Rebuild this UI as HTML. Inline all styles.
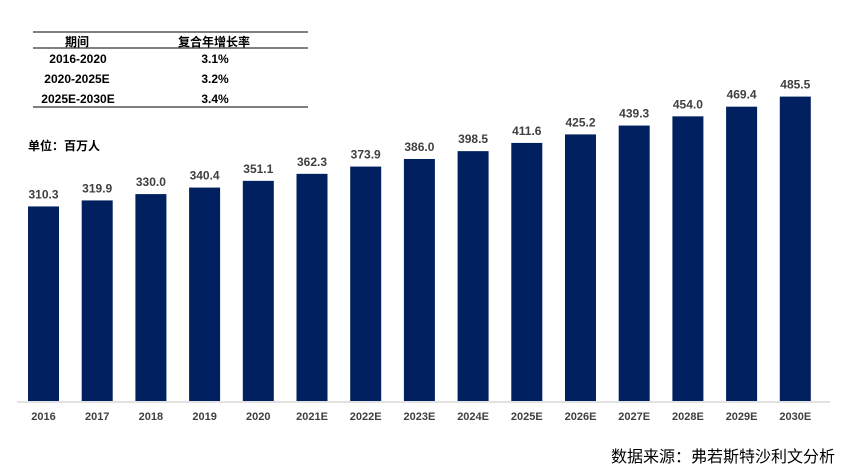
<!DOCTYPE html>
<html><head><meta charset="utf-8"><style>
body{margin:0;width:841px;height:471px;background:#fff;overflow:hidden;font-family:"Liberation Sans","Noto Sans CJK SC",sans-serif}
svg text{font-family:"Liberation Sans","Noto Sans CJK SC",sans-serif}
</style></head><body>
<svg width="841" height="471">
<g>
<line x1="33" y1="32" x2="308" y2="32" stroke="#555" stroke-width="1.5"/>
<line x1="33" y1="48" x2="308" y2="48" stroke="#000" stroke-width="1"/>
<line x1="33" y1="107" x2="308" y2="107" stroke="#555" stroke-width="1.5"/>
<g font-size="12" font-weight="bold" fill="#000" text-anchor="middle">
<text x="77" y="46">期间</text>
<text x="214" y="46">复合年增长率</text>
<text x="78" y="63">2016-2020</text><text x="215" y="63">3.1%</text>
<text x="77" y="83">2020-2025E</text><text x="215" y="83">3.2%</text>
<text x="78" y="103">2025E-2030E</text><text x="215" y="103">3.4%</text>
</g></g>
<text x="28" y="150" font-size="12" font-weight="bold" fill="#000">单位：百万人</text>
<line x1="17" y1="402" x2="830" y2="402" stroke="#d9d9d9" stroke-width="1.5"/>
<g id="bars"></g>
<text x="835" y="462" font-size="16" fill="#000" text-anchor="end">数据来源：弗若斯特沙利文分析</text>
</svg>
<script>
const categories=["2016","2017","2018","2019","2020","2021E","2022E","2023E","2024E","2025E","2026E","2027E","2028E","2029E","2030E"];
const values=[310.3,319.9,330.0,340.4,351.1,362.3,373.9,386.0,398.5,411.6,425.2,439.3,454.0,469.4,485.5];
const valueLabels=["310.3","319.9","330.0","340.4","351.1","362.3","373.9","386.0","398.5","411.6","425.2","439.3","454.0","469.4","485.5"];
const base=401,k=0.627,x0=28,pitch=53.7,bw=31;
const xs=i=>x0+i*pitch, ys=v=>base-v*k;
const g=document.getElementById('bars'),NS="http://www.w3.org/2000/svg";
categories.forEach((c,i)=>{
 const r=document.createElementNS(NS,'rect');
 
 
 r.setAttribute('x',xs(i));r.setAttribute('y',ys(values[i]));r.setAttribute('width',bw);r.setAttribute('height',base-ys(values[i]));r.setAttribute('fill','#00205f');
 g.appendChild(r);
 const t=document.createElementNS(NS,'text');
 
 
 t.setAttribute('x',xs(i)+bw/2);t.setAttribute('y',ys(values[i])-8);t.setAttribute('text-anchor','middle');t.setAttribute('font-size','12');t.setAttribute('font-weight','bold');t.setAttribute('fill','#404040');
 t.textContent=valueLabels[i];g.appendChild(t);
 const l=document.createElementNS(NS,'text');
 
 
 l.setAttribute('x',xs(i)+bw/2);l.setAttribute('y',420);l.setAttribute('text-anchor','middle');l.setAttribute('font-size','11');l.setAttribute('font-weight','bold');l.setAttribute('fill','#404040');
 l.textContent=c;g.appendChild(l);
});
</script>
</body></html>
